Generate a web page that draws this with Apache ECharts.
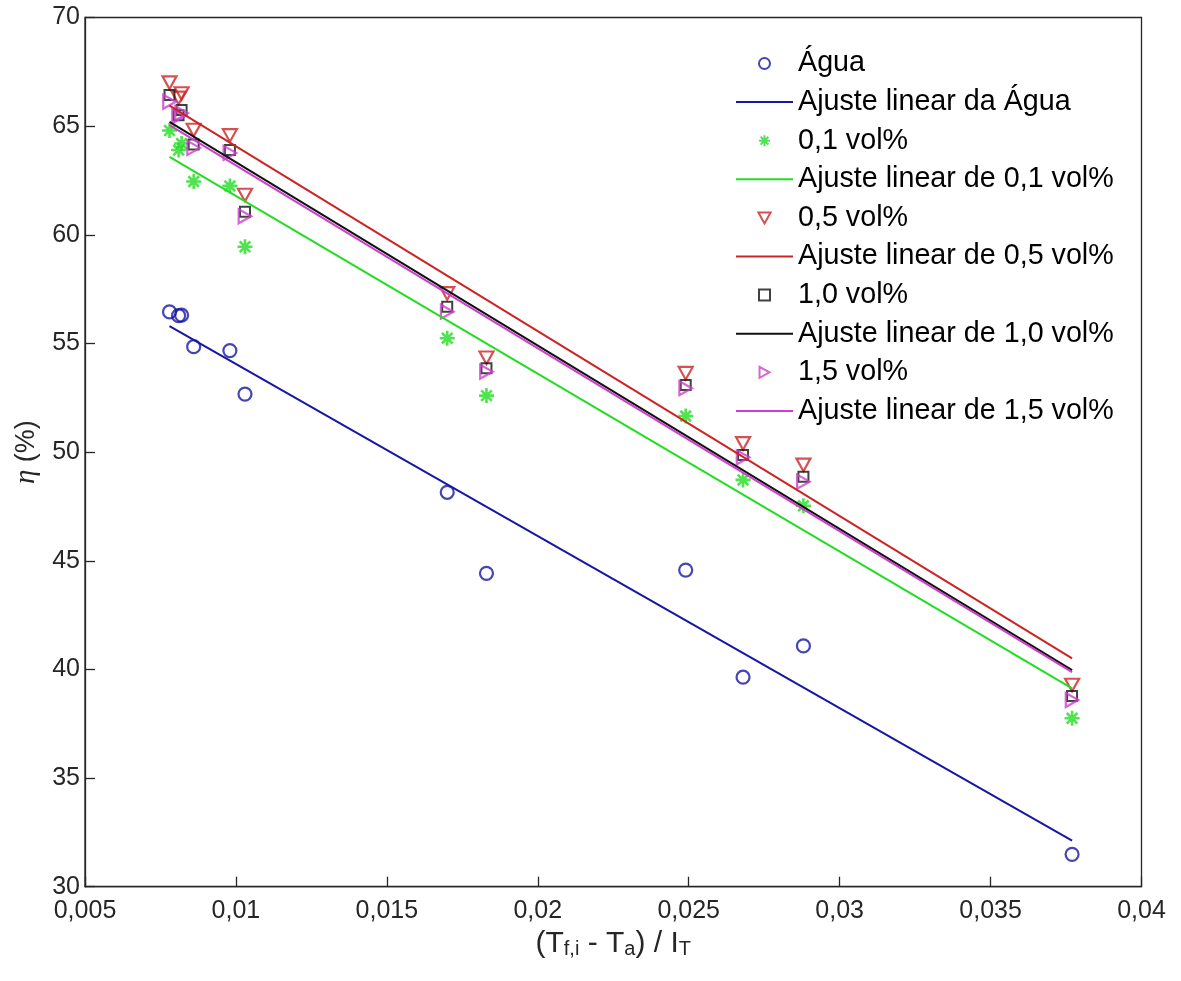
<!DOCTYPE html>
<html>
<head>
<meta charset="utf-8">
<script src="https://cdn.jsdelivr.net/npm/echarts@6/dist/echarts.min.js"></script>
<style>
html,body{margin:0;padding:0;background:#fff;}
#chart{width:1181px;height:981px;}
</style>
</head>
<body>
<div id="chart"></div>
<script>
// ---- data ----
const xValues = [0.0078, 0.0081, 0.0082, 0.0086, 0.0098, 0.0103, 0.0170, 0.0183, 0.0249, 0.0268, 0.0288, 0.0377];
const agua    = [56.45, 56.28, 56.30, 54.85, 54.67, 52.67, 48.15, 44.42, 44.57, 39.64, 41.08, 31.49];
const vol01   = [64.80, 63.90, 64.20, 62.45, 62.25, 59.45, 55.24, 52.60, 51.66, 48.72, 47.53, 37.75];
const vol05   = [67.00, 66.30, 66.50, 64.82, 64.57, 61.83, 57.30, 54.34, 53.63, 50.40, 49.41, 39.28];
const vol10   = [66.43, 65.50, 65.74, 64.15, 63.90, 61.06, 56.69, 53.86, 53.09, 49.87, 48.87, 38.78];
const vol15   = [66.12, 65.45, 65.60, 64.00, 63.77, 60.85, 56.46, 53.70, 52.94, 49.76, 48.64, 38.59];

const fitX      = [0.0078, 0.0377];
const fitAgua   = [55.80, 32.12];
const fitVol01  = [63.59, 39.13];
const fitVol05  = [65.94, 40.51];
const fitVol10  = [65.20, 39.97];
const fitVol15  = [65.05, 39.87];

const names = ['Água', 'Ajuste linear da Água', '0,1 vol%', 'Ajuste linear de 0,1 vol%',
  '0,5 vol%', 'Ajuste linear de 0,5 vol%', '1,0 vol%', 'Ajuste linear de 1,0 vol%',
  '1,5 vol%', 'Ajuste linear de 1,5 vol%'];

const cBlue = '#1616a4', cGreen = '#22dd22', cRed = '#cc2424', cBlack = '#111111', cMag = '#cc40cc';
const axisColor = '#262626';

const pairs = (xs, ys) => xs.map((x, i) => [x, ys[i]]);
const asterisk = 'path://M0,-10L0,10M-10,0L10,0M-7.07,-7.07L7.07,7.07M-7.07,7.07L7.07,-7.07';
const triDown = 'path://M-10,-9L10,-9L0,9Z';
const triRight = 'path://M-9,-10L9,0L-9,10Z';
const square = 'path://M0,0L10,0L10,10L0,10Z';

function scatter(name, ys, color, symbol, size, bw) {
  return {
    name, type: 'scatter', data: pairs(xValues, ys),
    symbol, symbolSize: size, symbolKeepAspect: true,
    itemStyle: { color: 'rgba(255,255,255,0)', borderColor: color, borderWidth: bw || 2 },
    emphasis: { disabled: true }
  };
}
function fit(name, ys, color) {
  return {
    name, type: 'line', data: pairs(fitX, ys), showSymbol: false, symbol: 'none',
    lineStyle: { color, width: 2 }, itemStyle: { color },
    emphasis: { disabled: true }
  };
}

const chart = echarts.init(document.getElementById('chart'), null, { renderer: 'canvas' });
const fmt = v => Number(v.toFixed(4)).toString().replace('.', ',');

const legendData = names.map((n, i) => i % 2 === 1 ? { name: n, itemStyle: { opacity: 0 } } : { name: n });

chart.setOption({
  animation: false,
  backgroundColor: '#ffffff',
  textStyle: { fontFamily: 'Liberation Sans, Arial, sans-serif' },
  grid: { left: 85, top: 17.5, right: 39.5, bottom: 94.3, show: true, borderColor: axisColor, borderWidth: 1.3 },
  legend: {
    orient: 'vertical', left: 730, top: 44,
    itemWidth: 57, itemHeight: 11, itemGap: 9.6,
    data: legendData,
    textStyle: { fontSize: 28.7, color: '#000', fontFamily: 'Liberation Sans, Arial, sans-serif' },
    selectedMode: false
  },
  xAxis: {
    type: 'value', min: 0.005, max: 0.04, interval: 0.005,
    axisLine: { lineStyle: { color: axisColor, width: 1.3 } },
    axisTick: { inside: true, length: 10, lineStyle: { color: axisColor, width: 1.3 } },
    splitLine: { show: false },
    axisLabel: { fontSize: 25, color: axisColor, margin: 12, formatter: fmt },
    name: '{m|(T}{s|f,i}{m| - T}{s|a}{m|) / I}{s|T}',
    nameLocation: 'middle', nameGap: 27,
    nameTextStyle: {
      rich: {
        m: { fontSize: 30, color: axisColor, lineHeight: 32, verticalAlign: 'middle', fontFamily: 'Liberation Sans, Arial, sans-serif' },
        s: { fontSize: 20, color: axisColor, lineHeight: 8, verticalAlign: 'bottom', fontFamily: 'Liberation Sans, Arial, sans-serif' }
      }
    }
  },
  yAxis: {
    type: 'value', min: 30, max: 70, interval: 5,
    axisLine: { lineStyle: { color: axisColor, width: 1.3 } },
    axisTick: { inside: true, length: 10, lineStyle: { color: axisColor, width: 1.3 } },
    splitLine: { show: false },
    axisLabel: { fontSize: 25, color: axisColor, margin: 5 },
    name: '{g|η}{m| (%)}',
    nameLocation: 'middle', nameGap: 44, nameRotate: 90,
    nameTextStyle: {
      rich: {
        g: { fontSize: 29, color: axisColor, fontStyle: 'italic', fontFamily: 'Liberation Serif, serif' },
        m: { fontSize: 27, color: axisColor, fontFamily: 'Liberation Sans, Arial, sans-serif' }
      }
    }
  },
  series: [
    scatter(names[0], agua, cBlue, 'circle', 13, 2.2),
    fit(names[1], fitAgua, cBlue),
    scatter(names[2], vol01, cGreen, asterisk, 15, 2.6),
    fit(names[3], fitVol01, cGreen),
    scatter(names[4], vol05, cRed, triDown, 14, 2.2),
    fit(names[5], fitVol05, cRed),
    scatter(names[6], vol10, cBlack, square, 10, 2),
    fit(names[7], fitVol10, cBlack),
    scatter(names[8], vol15, cMag, triRight, 14, 2.2),
    fit(names[9], fitVol15, cMag)
  ]
});
</script>
</body>
</html>
